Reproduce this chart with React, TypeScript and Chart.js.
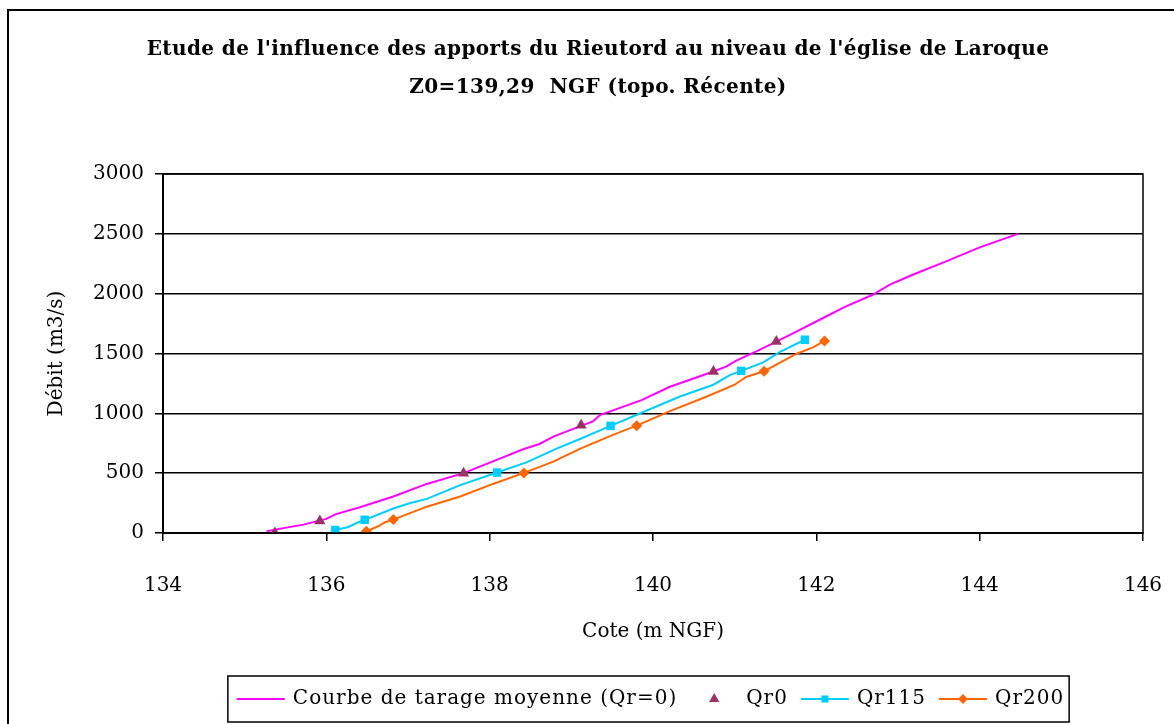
import React, { useEffect, useRef } from "react";
import { Chart, registerables } from "chart.js";

Chart.register(...registerables);

// ---- Text ----
const titleLines = [
  "Etude de l'influence des apports du Rieutord au niveau de l'église de Laroque",
  "Z0=139,29  NGF (topo. Récente)",
];
const xAxisTitle = "Cote (m NGF)";
const yAxisTitle = "Débit (m3/s)";

// ---- Axes ----
const xMin = 134;
const xMax = 146;
const xStep = 2;
const yMin = 0;
const yMax = 3000;
const yStep = 500;

// ---- Series: Courbe de tarage moyenne (Qr=0) ----
const courbeCote = [
  135.27, 135.51, 135.72, 136.0, 136.12, 136.41, 136.82, 137.23, 137.68, 138.04,
  138.41, 138.61, 138.78, 139.12, 139.27, 139.35, 139.86, 140.2, 140.74, 140.9,
  141.02, 141.31, 141.51, 141.72, 142.04, 142.35, 142.69, 142.9, 143.18, 143.59,
  144.0, 144.47,
];
const courbeDebit = [
  15, 45, 70, 118, 158, 215, 305, 410, 500, 598,
  700, 744, 805, 895, 935, 985, 1110, 1220, 1350, 1392,
  1440, 1532, 1600, 1670, 1782, 1890, 1991, 2075, 2158, 2270,
  2387, 2500,
];

// ---- Series: Qr0 (markers only) ----
const qr0Cote = [135.37, 135.92, 137.68, 139.12, 140.74, 141.51];
const qr0Debit = [0, 100, 500, 900, 1350, 1600];

// ---- Series: Qr115 ----
const qr115Cote = [
  136.11, 136.27, 136.39, 136.47, 136.82, 137.02, 137.23, 137.64, 138.09, 138.45,
  138.82, 139.12, 139.48, 139.86, 140.33, 140.74, 140.94, 141.08, 141.35, 141.55,
  141.86,
];
const qr115Debit = [
  25, 50, 90, 110, 205, 248, 285, 400, 505, 590,
  705, 790, 895, 1005, 1141, 1239, 1320, 1355, 1426, 1512,
  1615,
];
const qr115Markers = [0, 3, 8, 12, 17, 20];

// ---- Series: Qr200 ----
const qr200Cote = [
  136.49, 136.64, 136.72, 136.82, 137.23, 137.64, 138.04, 138.42, 138.78, 139.11,
  139.51, 139.8, 140.2, 140.66, 141.0, 141.14, 141.36, 141.55, 141.76, 141.96,
  142.1,
];
const qr200Debit = [
  15, 58, 90, 112, 220, 305, 410, 502, 596, 705,
  820, 897, 1016, 1141, 1239, 1304, 1352, 1421, 1498, 1551,
  1605,
];
const qr200Markers = [0, 3, 7, 11, 16, 20];

// ---- Styles ----
const MAGENTA = "#FF00FF";
const PLUM = "#993366";
const CYAN = "#00CCFF";
const ORANGE = "#FF6600";
const FONT = '"DejaVu Serif", serif';

const toPoints = (xs: number[], ys: number[]) => xs.map((x, i) => ({ x, y: ys[i] }));
const markerRadius = (idx: number[], r: number) => (ctx: any) =>
  idx.includes(ctx.dataIndex) ? r : 0;

function drawMarker(ctx: CanvasRenderingContext2D, style: string, x: number, y: number, r: number) {
  ctx.beginPath();
  if (style === "triangle") {
    ctx.moveTo(x, y - r);
    ctx.lineTo(x + r * 0.866, y + r * 0.5);
    ctx.lineTo(x - r * 0.866, y + r * 0.5);
    ctx.closePath();
  } else if (style === "rect") {
    const s = r * Math.SQRT1_2;
    ctx.rect(x - s, y - s, 2 * s, 2 * s);
  } else if (style === "rectRot") {
    ctx.moveTo(x, y - r);
    ctx.lineTo(x + r, y);
    ctx.lineTo(x, y + r);
    ctx.lineTo(x - r, y);
    ctx.closePath();
  }
  ctx.fill();
}

const framePlugin = {
  id: "frame",
  afterDraw(chart: any) {
    const ctx: any = chart.ctx;
    const a = chart.chartArea;
    ctx.save();
    // plot area border
    ctx.strokeStyle = "#000";
    ctx.lineWidth = 1.5;
    ctx.strokeRect(a.left, a.top, a.right - a.left, a.bottom - a.top);
    // outer chart frame
    ctx.lineWidth = 2;
    ctx.strokeRect(8, 10, chart.width + 100, chart.height + 100);
    // title
    ctx.fillStyle = "#000";
    ctx.textAlign = "center";
    ctx.textBaseline = "middle";
    ctx.font = `bold 20px ${FONT}`;
    ctx.letterSpacing = "0.4px";
    titleLines.forEach((t, i) => ctx.fillText(t, 598, 50 + i * 38));

    // legend
    ctx.font = `20px ${FONT}`;
    ctx.letterSpacing = "1px";
    const items = chart.data.datasets.map((ds: any) => ({
      label: ds.label as string,
      color: ds.borderColor as string,
      line: !!ds.legendLine,
      marker: ds.legendMarker as string | null,
      mColor: (ds.pointBackgroundColor || ds.backgroundColor || ds.borderColor) as string,
    }));
    const sample = 48;
    const gapText = 8;
    const gapItem = 13;
    const padL = 9;
    const padR = 5;
    const widths = items.map((it: any) => ctx.measureText(it.label).width);
    let total = padL + padR;
    widths.forEach((w: number, i: number) => {
      total += sample + gapText + w + (i < widths.length - 1 ? gapItem : 0);
    });
    const boxLeft = 648.5 - total / 2;
    const boxTop = 676;
    const boxH = 46;
    const cy = boxTop + boxH / 2;
    ctx.fillStyle = "#fff";
    ctx.fillRect(boxLeft, boxTop, total, boxH);
    ctx.lineWidth = 1.5;
    ctx.strokeStyle = "#000";
    ctx.strokeRect(boxLeft, boxTop, total, boxH);
    let x = boxLeft + padL;
    items.forEach((it: any, i: number) => {
      if (it.line) {
        ctx.strokeStyle = it.color;
        ctx.lineWidth = 2;
        ctx.beginPath();
        ctx.moveTo(x, cy);
        ctx.lineTo(x + sample, cy);
        ctx.stroke();
      }
      if (it.marker) {
        ctx.fillStyle = it.mColor;
        drawMarker(ctx, it.marker, x + sample / 2, cy, it.marker === "triangle" ? 6 : 5);
      }
      ctx.fillStyle = "#000";
      ctx.textAlign = "left";
      ctx.textBaseline = "middle";
      ctx.fillText(it.label, x + sample + gapText, cy);
      x += sample + gapText + widths[i] + gapItem;
    });
    ctx.restore();
  },
};

export default function App() {
  const ref = useRef<HTMLCanvasElement>(null);
  useEffect(() => {
    document.body.style.margin = "0";
    const canvas = ref.current!;
    Chart.defaults.font.family = FONT;
    Chart.defaults.color = "#000";
    const chart = new Chart(canvas, {
      type: "scatter",
      data: {
        datasets: [
          {
            label: "Courbe de tarage moyenne (Qr=0)",
            data: toPoints(courbeCote, courbeDebit),
            showLine: true,
            borderColor: MAGENTA,
            backgroundColor: MAGENTA,
            borderWidth: 2,
            pointRadius: 0,
            order: 3,
            legendLine: true,
            legendMarker: null,
          } as any,
          {
            label: "Qr0",
            data: toPoints(qr0Cote, qr0Debit),
            showLine: false,
            pointStyle: "triangle",
            pointRadius: 6.5,
            backgroundColor: PLUM,
            borderColor: PLUM,
            borderWidth: 0,
            order: 0,
            legendLine: false,
            legendMarker: "triangle",
          } as any,
          {
            label: "Qr115",
            data: toPoints(qr115Cote, qr115Debit),
            showLine: true,
            borderColor: CYAN,
            backgroundColor: CYAN,
            borderWidth: 2,
            pointStyle: "rect",
            pointRadius: markerRadius(qr115Markers, 6),
            pointBackgroundColor: CYAN,
            pointBorderColor: CYAN,
            pointBorderWidth: 0,
            order: 1,
            legendLine: true,
            legendMarker: "rect",
          } as any,
          {
            label: "Qr200",
            data: toPoints(qr200Cote, qr200Debit),
            showLine: true,
            borderColor: ORANGE,
            backgroundColor: ORANGE,
            borderWidth: 2,
            pointStyle: "rectRot",
            pointRadius: markerRadius(qr200Markers, 5.5),
            pointBackgroundColor: ORANGE,
            pointBorderColor: ORANGE,
            pointBorderWidth: 0,
            order: 2,
            legendLine: true,
            legendMarker: "rectRot",
          } as any,
        ],
      },
      options: {
        animation: false,
        responsive: false,
        layout: { padding: { left: 0, top: 174, right: 31, bottom: 71 } },
        plugins: {
          legend: { display: false },
          title: { display: false },
          tooltip: { enabled: false },
        },
        scales: {
          x: {
            type: "linear",
            min: xMin,
            max: xMax,
            ticks: {
              stepSize: xStep,
              padding: 33,
              font: { size: 20, family: FONT },
              color: "#000",
              callback: (v: any) => String(v),
            },
            grid: { drawOnChartArea: false, drawTicks: true, tickLength: 8, color: "#000", lineWidth: 1.5 },
            border: { color: "#000", width: 2 },
            title: { display: true, text: xAxisTitle, font: { size: 20, family: FONT }, color: "#000", padding: { top: 0, bottom: 9 } },
            afterFit: (s: any) => {
              s.height = 120;
              s.paddingLeft = 0;
              s.paddingRight = 0;
            },
          },
          y: {
            type: "linear",
            min: yMin,
            max: yMax,
            ticks: {
              stepSize: yStep,
              padding: 11,
              font: { size: 20, family: FONT },
              color: "#000",
              callback: (v: any) => String(v),
            },
            grid: { color: "#000", lineWidth: 1.5, tickLength: 8 },
            border: { color: "#000", width: 2 },
            title: { display: true, text: yAxisTitle, font: { size: 20, family: FONT }, color: "#000", padding: { top: 45, bottom: 0 } },
            afterFit: (s: any) => { s.width = 163; },
          },
        },
      },
      plugins: [framePlugin],
    });
    return () => chart.destroy();
  }, []);
  return <canvas ref={ref} width={1174} height={724} style={{ display: "block" }} />;
}
